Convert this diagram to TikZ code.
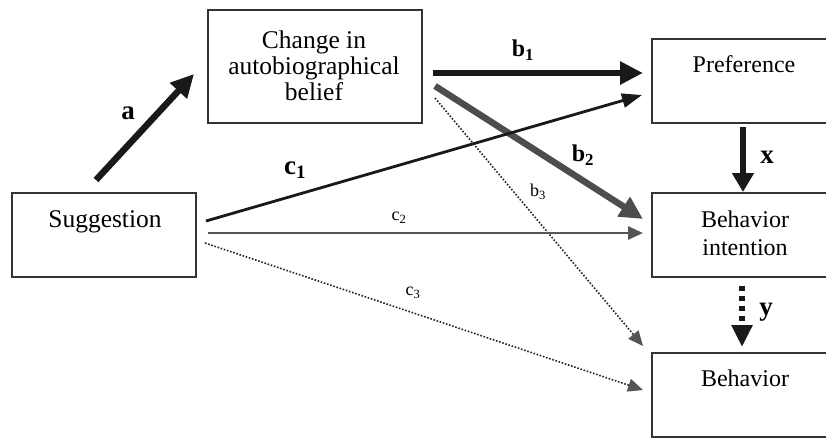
\documentclass[tikz,border=0pt]{standalone}
\usepackage{fontspec}
\setmainfont{Liberation Serif}
\usetikzlibrary{arrows.meta}
\definecolor{boxline}{HTML}{333333}
\definecolor{midgray}{HTML}{4D4D4D}
\definecolor{lgray}{HTML}{555555}
\begin{document}
\begin{tikzpicture}[x=1pt,y=-1pt,
  box/.style={draw=boxline, line width=1.3pt, inner sep=0pt, minimum width=184pt, minimum height=84pt},
  lefttext/.style={inner sep=0pt, anchor=base, align=center, font={\fontsize{25.5}{26}\selectfont}},
  righttext/.style={inner sep=0pt, anchor=base, align=center, font={\fontsize{24}{28}\selectfont}},
  biglbl/.style={inner sep=0pt, font={\fontsize{27}{28}\selectfont\bfseries}},
  midlbl/.style={inner sep=0pt, font={\fontsize{24}{26}\selectfont\bfseries}},
  smalllbl/.style={inner sep=0pt, font={\fontsize{18}{20}\selectfont}},
  thickarrow/.style={line width=6.5pt, -{Triangle[length=23pt,width=22pt]}},
  thinarrow/.style={line width=2.8pt, -{Triangle[length=20pt,width=14pt]}},
  dotarrow/.style={draw=black!85, line width=1.6pt, dash pattern=on 1.6pt off 1.7pt,
     -{Triangle[length=15pt,width=13pt,fill=lgray,color=lgray]}}
]
\useasboundingbox (0,0) rectangle (826,437);
\clip (0,0) rectangle (826,437);
\fill[white] (0,0) rectangle (826,437);

% boxes
\node[box] (sugg) at (104,235) {};
\node[box, minimum width=214pt, minimum height=113pt] (change) at (315,66.5) {};
\node[box] (pref) at (744,81) {};
\node[box] (bint) at (744,235) {};
\node[box] (beh) at (744,395) {};

% texts (anchor=base is the baseline of the last line)
\node[lefttext] (tsugg) at (105,227) {Suggestion};
\node[lefttext] (tchange) at (314,100) {Change in\\autobiographical\\belief};
\node[righttext] (tpref) at (744,72) {Preference};
\node[righttext] (tbint) at (745,255) {Behavior\\intention};
\node[righttext] (tbeh) at (745,386) {Behavior};

% connector end points
\coordinate (aS) at (96,180);   \coordinate (aE) at (194,74);
\coordinate (b1S) at (433,73);  \coordinate (b1E) at (643,73);
\coordinate (b2S) at (435,86);  \coordinate (b2E) at (643,219);
\coordinate (b3S) at (435,98);  \coordinate (b3E) at (643,346);
\coordinate (c1S) at (206,221); \coordinate (c1E) at (642,95);
\coordinate (c2S) at (208,233); \coordinate (c2E) at (643,233);
\coordinate (c3S) at (205,243); \coordinate (c3E) at (643,390);
\coordinate (xS) at (743,127);  \coordinate (xE) at (743,192);
\coordinate (yS) at (742,286);  \coordinate (yE) at (742,347);

% connectors
\draw[thickarrow, color=black!90] (aS) -- (aE);
\draw[thickarrow, color=black!90] (b1S) -- (b1E);
\draw[thickarrow, color=midgray] (b2S) -- (b2E);
\draw[dotarrow] (b3S) -- (b3E);
\draw[thinarrow, color=black!90] (c1S) -- (c1E);
\draw[thinarrow, color=lgray, -{Triangle[length=15pt,width=13pt]}] (c2S) -- (c2E);
\draw[dotarrow] (c3S) -- (c3E);
\draw[line width=6.5pt, color=black!90, -{Triangle[length=19pt,width=21pt]}] (xS) -- (xE);
\draw[line width=6.5pt, color=black!90, dash pattern=on 5pt off 5pt,
      -{Triangle[length=22pt,width=20pt]}] (yS) -- (yE);

% labels
\node[biglbl] (la) at (128,113) {a};
\node[midlbl] (lb1) at (523,50) {b\textsubscript{1}};
\node[midlbl] (lb2) at (583,155) {b\textsubscript{2}};
\node[smalllbl] (lb3) at (538,192) {b\textsubscript{3}};
\node[biglbl] (lc1) at (295,170) {c\textsubscript{1}};
\node[smalllbl] (lc2) at (399,218) {c\textsubscript{2}};
\node[smalllbl] (lc3) at (413,293) {c\textsubscript{3}};
\node[biglbl] (lx) at (767,157) {x};
\node[biglbl] (ly) at (766,312) {y};
\end{tikzpicture}
\end{document}
